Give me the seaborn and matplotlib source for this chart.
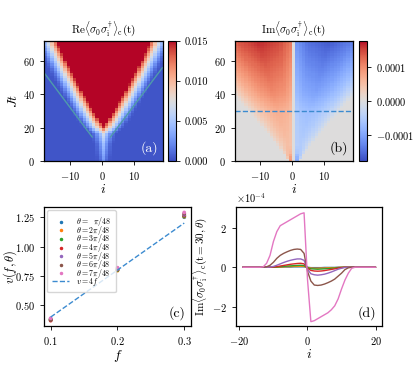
import numpy as np
import pandas as pd
import matplotlib
matplotlib.use('Agg')
import matplotlib.pyplot as plt
from matplotlib.lines import Line2D
from matplotlib.ticker import FuncFormatter, MultipleLocator
import seaborn as sns

# ---- data ----
sites = np.arange(-18, 19)
t_edges = np.arange(0, 73.5, 1.5)

# (a) Re part: saturated light cone, front half-width vs time, and fade beyond the front
a_t_knots = [0, 10, 16, 20, 24, 30, 40, 50, 60, 70]
a_front = [-5, -4, -3, -0.5, 1, 3, 6, 8.8, 11.5, 14]
a_fade_dist = [0, 1, 2, 3, 4, 5, 6, 7]
a_fade_val = [0.016, 0.0125, 0.0095, 0.0068, 0.0045, 0.0025, 0.001, 0.0003]
a_line_left_i = [-3.0, -18.2]
a_line_left_t = [14.3, 53.5]
a_line_right_i = [2.6, 18.8]
a_line_right_t = [14.3, 56.0]

# (b) Im part: cone front, amplitude vs time, profile across the cone
b_t_knots = [0, 5, 10, 20, 30, 40, 50, 60, 70]
b_front = [1.5, 3.5, 5.5, 10, 14.5, 19, 23, 27, 31]
b_amp = [0.00011, 0.00006, 0.00005, 0.00006, 0.00007, 0.0001, 0.00012, 0.00014, 0.00016]
b_shape_r = [0, 0.15, 0.35, 0.55, 0.75, 0.9, 1.0]
b_shape = [0.65, 0.9, 1.0, 0.85, 0.6, 0.3, 0.0]
b_cut_t = 30

# (c) velocities
f_vals = [0.1, 0.2, 0.3]
theta_labels = [r'$\theta =\ \ \pi/48$', r'$\theta = 2\pi/48$', r'$\theta = 3\pi/48$',
                r'$\theta = 4\pi/48$', r'$\theta = 5\pi/48$', r'$\theta = 6\pi/48$',
                r'$\theta = 7\pi/48$']
v_th1 = [0.375, 0.800, 1.250]
v_th2 = [0.380, 0.795, 1.255]
v_th3 = [0.380, 0.800, 1.260]
v_th4 = [0.370, 0.805, 1.265]
v_th5 = [0.385, 0.810, 1.270]
v_th6 = [0.375, 0.815, 1.280]
v_th7 = [0.390, 0.820, 1.290]
line_f = [0.1, 0.3]
line_v = [0.4, 1.2]

# (d) Im profile at t = 30, in units of 1e-4, sites -13..13 (zero outside)
d_sites = np.arange(-19, 21)
core_sites = np.arange(-13, 14)
d_th1 = [0, 0, 0, 0, 0, 0, 0.01, 0.01, 0.01, 0.02, 0.02, 0.02, 0.02, 0,
         -0.02, -0.02, -0.02, -0.02, -0.01, -0.01, -0.01, -0.01, 0, 0, 0, 0, 0]
d_th2 = [0, 0, 0, 0, 0, 0.01, 0.02, 0.03, 0.03, 0.04, 0.04, 0.05, 0.04, -0.01,
         -0.04, -0.05, -0.05, -0.04, -0.04, -0.03, -0.02, -0.02, -0.01, 0, 0, 0, 0]
d_th3 = [0, 0, 0, 0, 0.01, 0.03, 0.04, 0.06, 0.07, 0.08, 0.09, 0.1, 0.08, -0.02,
         -0.08, -0.09, -0.1, -0.09, -0.08, -0.07, -0.05, -0.04, -0.02, -0.01, 0, 0, 0]
d_th4 = [0, 0, 0, 0.01, 0.03, 0.06, 0.09, 0.12, 0.15, 0.17, 0.19, 0.2, 0.17, -0.05,
         -0.16, -0.19, -0.2, -0.19, -0.17, -0.14, -0.11, -0.08, -0.04, -0.02, 0, 0, 0]
d_th5 = [0, 0, 0.01, 0.04, 0.1, 0.17, 0.24, 0.3, 0.35, 0.39, 0.42, 0.42, 0.35, -0.1,
         -0.33, -0.38, -0.4, -0.38, -0.35, -0.3, -0.24, -0.17, -0.1, -0.05, -0.01, 0, 0]
d_th6 = [0, 0.02, 0.1, 0.25, 0.45, 0.6, 0.7, 0.78, 0.85, 0.9, 0.92, 0.9, 0.7, -0.2,
         -0.7, -0.9, -0.92, -0.9, -0.85, -0.78, -0.7, -0.6, -0.45, -0.3, -0.12, -0.03, 0]
d_th7 = [0.02, 0.2, 0.6, 1.3, 1.8, 2.1, 2.2, 2.3, 2.4, 2.5, 2.6, 2.7, 2.75, -0.6,
         -2.75, -2.7, -2.6, -2.5, -2.4, -2.3, -2.15, -1.95, -1.6, -1.1, -0.65, -0.3, -0.05]

palette = sns.color_palette('tab10')[:7]

# ---- style ----
sns.set_style('ticks')
plt.rcParams.update({
    'font.family': 'serif',
    'font.serif': ['cmr10'],
    'mathtext.fontset': 'cm',
    'axes.formatter.use_mathtext': True,
    'font.size': 7,
    'axes.edgecolor': 'black',
    'axes.labelcolor': 'black',
    'text.color': 'black',
    'xtick.color': 'black',
    'ytick.color': 'black',
    'xtick.labelsize': 7.5,
    'ytick.labelsize': 7.5,
    'xtick.major.size': 3,
    'ytick.major.size': 3,
    'xtick.major.width': 0.6,
    'ytick.major.width': 0.6,
    'axes.linewidth': 0.9,
})
MATH_FAM = 'DejaVu Serif'

fig = plt.figure(figsize=(4.15, 3.74), dpi=100)
ax_a = fig.add_axes([0.106, 0.5695, 0.287, 0.321])
cax_a = fig.add_axes([0.405, 0.5695, 0.0193, 0.321])
ax_b = fig.add_axes([0.566, 0.5695, 0.284, 0.321])
cax_b = fig.add_axes([0.865, 0.5695, 0.0193, 0.321])
ax_c = fig.add_axes([0.106, 0.1283, 0.354, 0.318])
ax_d = fig.add_axes([0.569, 0.1283, 0.352, 0.318])

i_edges = np.arange(sites[0], sites[-1] + 2)
t_mid = (t_edges[:-1] + t_edges[1:]) / 2

# (a)
front_a = np.interp(t_mid, a_t_knots, a_front)
dist_a = np.abs(sites)[None, :] - front_a[:, None]
Za = np.interp(dist_a, a_fade_dist, a_fade_val)
mesh_a = ax_a.pcolormesh(i_edges, t_edges, Za, cmap='coolwarm', vmin=0, vmax=0.015)
cb_a = fig.colorbar(mesh_a, cax=cax_a, ticks=[0, 0.005, 0.01, 0.015], format='%.3f')
cb_a.outline.set_linewidth(0.8)
ax_a.plot(a_line_left_i, a_line_left_t, color='#4f9bab', lw=1)
ax_a.plot(a_line_right_i, a_line_right_t, color='#4f9bab', lw=1)
ax_a.set_xlim(i_edges[0], i_edges[-1])
ax_a.set_ylim(t_edges[0], t_edges[-1])
ax_a.set_xticks([-10, 0, 10])
ax_a.set_yticks([0, 20, 40, 60])
ax_a.set_xlabel(r'$i$', fontsize=10, labelpad=0, family=MATH_FAM)
ax_a.set_ylabel(r'$Jt$', fontsize=10, labelpad=2, family=MATH_FAM)
ax_a.set_title(r'$\mathrm{Re}\langle\sigma_0\sigma_{\mathrm{i}}^{\dagger}\rangle_{\mathrm{c}}(\mathrm{t})$',
               fontsize=8, pad=6, family=MATH_FAM)
ax_a.text(0.96, 0.05, '(a)', transform=ax_a.transAxes, ha='right', va='bottom',
          color='white', fontsize=10)

# (b)
front_b = np.interp(t_mid, b_t_knots, b_front)
amp_b = np.interp(t_mid, b_t_knots, b_amp)
r_b = np.abs(sites)[None, :] / front_b[:, None]
Zb = -np.sign(sites)[None, :] * amp_b[:, None] * np.interp(r_b, b_shape_r, b_shape)
mesh_b = ax_b.pcolormesh(i_edges, t_edges, Zb, cmap='coolwarm', vmin=-0.000175, vmax=0.000175)
cb_b = fig.colorbar(mesh_b, cax=cax_b, ticks=[-0.0001, 0, 0.0001],
                    format=FuncFormatter(lambda x, p: f'${x:.4f}$'))
cb_b.outline.set_linewidth(0.8)
ax_b.axhline(b_cut_t, ls='--', color='#3c8bd0', lw=1)
ax_b.set_xlim(i_edges[0], i_edges[-1])
ax_b.set_ylim(t_edges[0], t_edges[-1])
ax_b.set_xticks([-10, 0, 10])
ax_b.set_yticks([0, 20, 40, 60])
ax_b.set_xlabel(r'$i$', fontsize=10, labelpad=0, family=MATH_FAM)
ax_b.set_title(r'$\mathrm{Im}\langle\sigma_0\sigma_{\mathrm{i}}^{\dagger}\rangle_{\mathrm{c}}(\mathrm{t})$',
               fontsize=8, pad=6, family=MATH_FAM)
ax_b.text(0.96, 0.05, '(b)', transform=ax_b.transAxes, ha='right', va='bottom', fontsize=10)

# (c)
v_all = [v_th1, v_th2, v_th3, v_th4, v_th5, v_th6, v_th7]
df_c = pd.DataFrame({
    'f': np.tile(f_vals, len(v_all)),
    'v': np.concatenate(v_all),
    'theta': np.repeat(theta_labels, len(f_vals)),
})
sns.scatterplot(data=df_c, x='f', y='v', hue='theta', hue_order=theta_labels,
                palette=palette, marker='.', s=30, linewidth=0, legend=False, ax=ax_c)
sns.lineplot(x=line_f, y=line_v, ax=ax_c, color='#3c8bd0', lw=1, legend=False)
ax_c.lines[-1].set_linestyle('--')
handles = [Line2D([], [], ls='', marker='.', ms=3, color=c) for c in palette]
handles.append(Line2D([], [], ls='--', lw=1, color='#3c8bd0'))
ax_c.legend(handles, theta_labels + [r'$v = 4f$'], loc='upper left', fontsize=5.7,
            labelspacing=-0.55, handlelength=2.2, handleheight=0.4, borderpad=0.6,
            borderaxespad=0.4, frameon=True)
ax_c.set_xticks([0.1, 0.2, 0.3])
ax_c.set_yticks([0.5, 0.75, 1.0, 1.25])
ax_c.yaxis.set_major_formatter(FuncFormatter(lambda x, p: f'${x:.2f}$'))
ax_c.xaxis.set_major_formatter(FuncFormatter(lambda x, p: f'${x:.1f}$'))
ax_c.set_xlabel(r'$f$', fontsize=10, labelpad=1, family=MATH_FAM)
ax_c.set_ylabel(r'$v(f,\theta)$', fontsize=9, family=MATH_FAM)
ax_c.yaxis.set_label_coords(-0.17, 0.5)
ax_c.text(0.96, 0.05, '(c)', transform=ax_c.transAxes, ha='right', va='bottom', fontsize=10)

# (d)
d_all = [d_th1, d_th2, d_th3, d_th4, d_th5, d_th6, d_th7]
rows = []
for lab, prof in zip(theta_labels, d_all):
    full = np.zeros(len(d_sites))
    full[np.isin(d_sites, core_sites)] = prof
    rows.append(pd.DataFrame({'i': d_sites, 'val': full * 1e-4, 'theta': lab}))
df_d = pd.concat(rows, ignore_index=True)
sns.lineplot(data=df_d, x='i', y='val', hue='theta', hue_order=theta_labels,
             palette=palette, lw=1, legend=False, ax=ax_d)
ax_d.xaxis.set_major_locator(MultipleLocator(20))
ax_d.set_ylim(-2.97e-4, 3.04e-4)
ax_d.yaxis.set_major_locator(MultipleLocator(2e-4))
ax_d.ticklabel_format(axis='y', style='sci', scilimits=(0, 0), useMathText=True)
ax_d.yaxis.get_offset_text().set_fontsize(7.5)
ax_d.set_xlabel(r'$i$', fontsize=10, labelpad=0, family=MATH_FAM)
ax_d.set_ylabel(r'$\mathrm{Im}\langle\sigma_0\sigma_{\mathrm{i}}^{\dagger}\rangle_{\mathrm{c}}(\mathrm{t}=30,\theta)$',
                fontsize=8, labelpad=2, family=MATH_FAM)
ax_d.text(0.96, 0.05, '(d)', transform=ax_d.transAxes, ha='right', va='bottom', fontsize=10)

fig.savefig('out.png', dpi=100)
